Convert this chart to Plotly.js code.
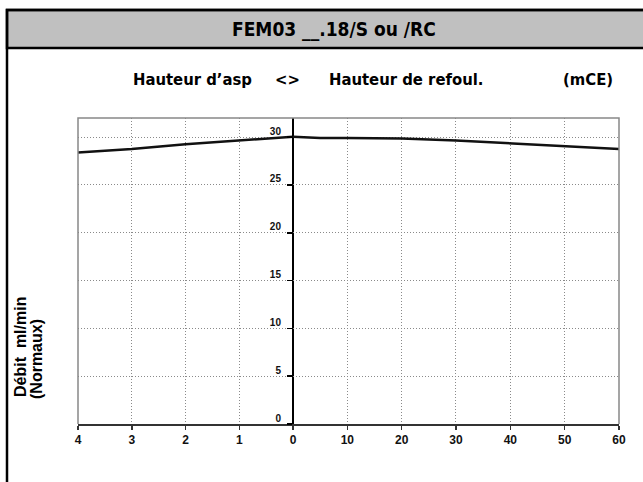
<!DOCTYPE html>
<html>
<head>
<meta charset="utf-8">
<script src="https://cdn.plot.ly/plotly-3.0.1.min.js"></script>
<style>
html,body{margin:0;padding:0;background:#fff;overflow:hidden;}
#chart{width:643px;height:482px;}
</style>
</head>
<body>
<div id="chart"></div>
<script>
// ---- data ----
const suctionHeight = [4, 3, 2, 1, 0];                 // Hauteur d'aspiration (mCE)
const suctionFlow   = [28.4, 28.75, 29.25, 29.65, 30.05];
const dischargeHeight = [0, 5, 10, 20, 30, 40, 50, 60]; // Hauteur de refoulement (mCE)
const dischargeFlow   = [30.05, 29.9, 29.9, 29.85, 29.65, 29.35, 29.1, 28.75];
const suctionTicks   = [4, 3, 2, 1, 0];
const dischargeTicks = [10, 20, 30, 40, 50, 60];
const flowTicks      = [0, 5, 10, 15, 20, 25, 30];

const chartTitle = 'FEM03 __.18/S ou /RC';
const subLeft  = 'Hauteur d\u2019asp';
const subMid   = '<>';
const subRight = 'Hauteur de refoul.';
const subUnit  = '(mCE)';
const yTitle1  = 'D\u00e9bit  ml/min';
const yTitle2  = '(Normaux)';

// ---- layout geometry ----
const W = 643, H = 482;
const M = {l: 78, r: 24, t: 118, b: 58};
const PW = W - M.l - M.r, PH = H - M.t - M.b;
const px = x => (x - M.l) / PW;
const py = y => (H - M.b - y) / PH;
const split = 0.3974;

const FONT = 'Liberation Sans, Arial, Helvetica, sans-serif';
const COND = 'DejaVu Sans Condensed, Liberation Sans, sans-serif';
const gridCol = '#8a8a8a';

const traces = [
  {x: suctionHeight, y: suctionFlow, xaxis: 'x', yaxis: 'y', mode: 'lines',
   line: {color: '#111', width: 2.5}, hoverinfo: 'skip', showlegend: false},
  {x: dischargeHeight, y: dischargeFlow, xaxis: 'x2', yaxis: 'y', mode: 'lines',
   line: {color: '#111', width: 2.5}, hoverinfo: 'skip', showlegend: false}
];

const xCommon = {
  showline: true, linecolor: '#333', linewidth: 2,
  ticks: 'outside', ticklen: 4, tickcolor: '#333', tickwidth: 1.5,
  showgrid: true, gridcolor: gridCol, griddash: '1px,2px', gridwidth: 1,
  zeroline: false, tickmode: 'array',
  tickfont: {family: FONT, size: 12, color: '#111', weight: 'bold'},
  anchor: 'y', fixedrange: true
};

const layout = {
  width: W, height: H,
  margin: M,
  paper_bgcolor: '#fff', plot_bgcolor: '#fff',
  showlegend: false,
  xaxis: Object.assign({}, xCommon, {domain: [0, split], range: [4, 0], tickvals: suctionTicks}),
  xaxis2: Object.assign({}, xCommon, {domain: [split, 1], range: [0, 60], tickvals: dischargeTicks}),
  yaxis: {
    range: [0, 32], anchor: 'free', position: split,
    tickmode: 'array', tickvals: flowTicks,
    showline: true, linecolor: '#000', linewidth: 2,
    ticks: 'outside', ticklen: 5, tickcolor: '#000', tickwidth: 1.5,
    showgrid: true, gridcolor: gridCol, griddash: '1px,2px', gridwidth: 1,
    zeroline: false, ticklabelshift: -6, ticklabelstandoff: 4,
    tickfont: {family: FONT, size: 10, color: '#111', weight: 'bold'},
    fixedrange: true
  },
  shapes: [
    {type: 'rect', xref: 'paper', yref: 'paper', x0: px(7), x1: px(680), y0: py(10), y1: py(520),
     line: {color: '#000', width: 2.5}, fillcolor: 'rgba(0,0,0,0)', layer: 'above'},
    {type: 'rect', xref: 'paper', yref: 'paper', x0: px(7), x1: px(680), y0: py(10), y1: py(48),
     line: {color: '#000', width: 2.5}, fillcolor: '#c0c0c0', layer: 'below'},
    {type: 'path', xref: 'paper', yref: 'paper',
     path: 'M 0 0 L 0 1 L 1 1 L 1 0', line: {color: '#888', width: 1.5}, layer: 'above'}
  ],
  annotations: [
    {text: chartTitle, xref: 'paper', yref: 'paper', x: px(334), y: py(29.5), xanchor: 'center', yanchor: 'middle',
     showarrow: false, font: {family: COND, size: 19, color: '#000', weight: 'bold'}},
    {text: subLeft, xref: 'paper', yref: 'paper', x: px(131), y: py(79), xanchor: 'left', yanchor: 'middle',
     showarrow: false, font: {family: COND, size: 16.5, color: '#000', weight: 'bold'}},
    {text: subMid.replace('<', '&lt;').replace('>', '&gt;'), xref: 'paper', yref: 'paper', x: px(287.5), y: py(79), xanchor: 'center', yanchor: 'middle',
     showarrow: false, font: {family: COND, size: 16.5, color: '#000', weight: 'bold'}},
    {text: subRight, xref: 'paper', yref: 'paper', x: px(327), y: py(79), xanchor: 'left', yanchor: 'middle',
     showarrow: false, font: {family: COND, size: 16.5, color: '#000', weight: 'bold'}},
    {text: subUnit, xref: 'paper', yref: 'paper', x: px(561), y: py(79), xanchor: 'left', yanchor: 'middle',
     showarrow: false, font: {family: COND, size: 16.5, color: '#000', weight: 'bold'}},
    {text: yTitle1, xref: 'paper', yref: 'paper', x: px(20), y: py(347), xanchor: 'center', yanchor: 'middle',
     textangle: -90, showarrow: false, font: {family: FONT, size: 16, color: '#000', weight: 'bold'}},
    {text: yTitle2, xref: 'paper', yref: 'paper', x: px(36), y: py(359), xanchor: 'center', yanchor: 'middle',
     textangle: -90, showarrow: false, font: {family: FONT, size: 16, color: '#000', weight: 'bold'}}
  ]
};

Plotly.newPlot('chart', traces, layout, {staticPlot: true, displayModeBar: false});
</script>
</body>
</html>
